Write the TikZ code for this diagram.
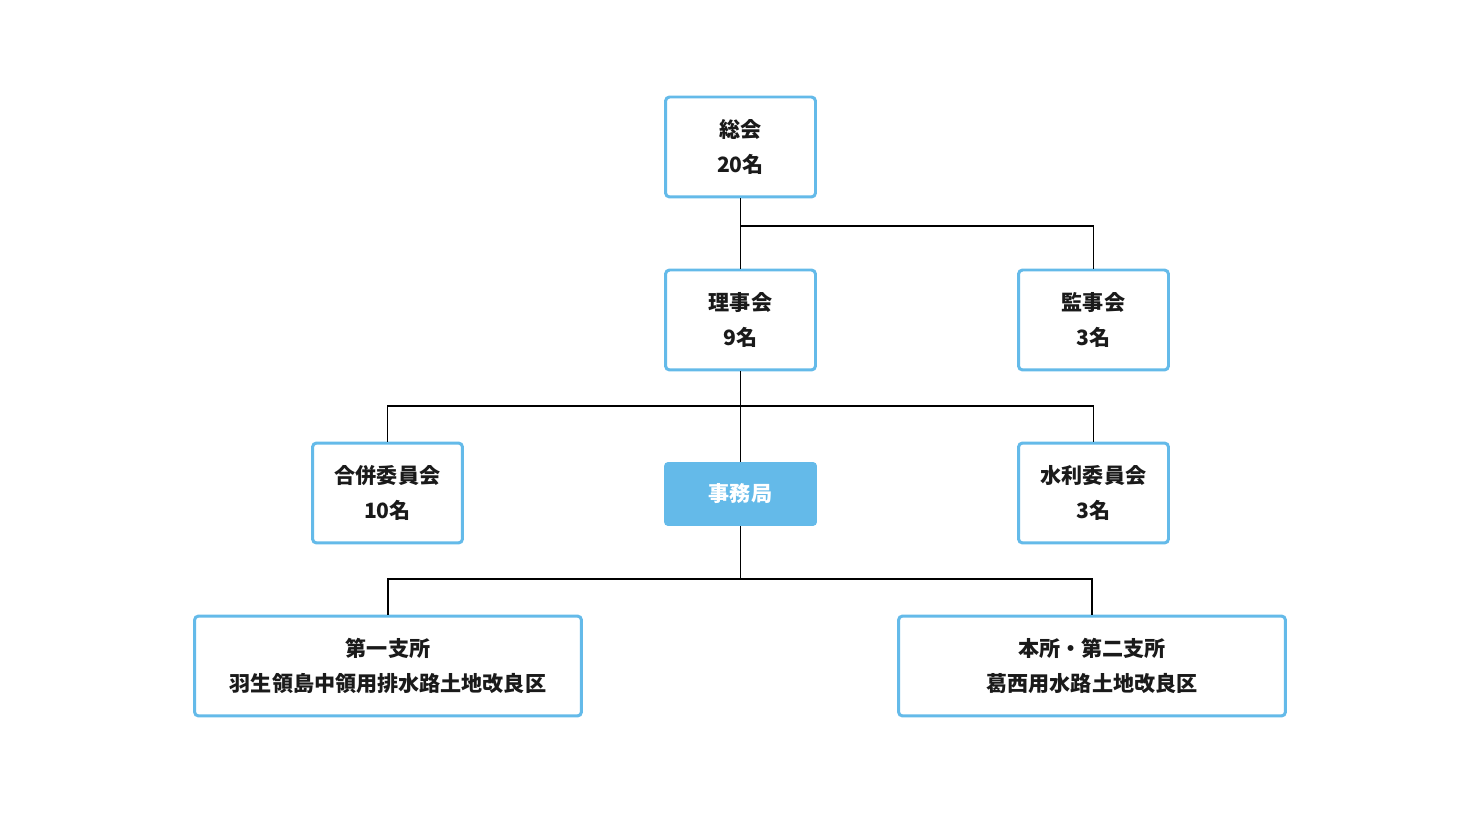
\documentclass[tikz,border=0pt]{standalone}
\usepackage{fontspec}
\setmainfont{Noto Sans CJK JP}
\usepackage{tikz}
\usetikzlibrary{positioning,calc}
\definecolor{ocbink}{HTML}{1A1A1A}
\definecolor{ocbblue}{HTML}{64BAE9}
\tikzset{
  % every member body: white card with a blue rim
  ocb box/.style={
    draw=ocbblue, line width=1.7pt, rounded corners=2.3pt, fill=white,
    minimum width=3.0cm, minimum height=2.0cm, inner sep=0pt,
    align=center, text=ocbink,
    font=\bfseries\fontsize{12}{20}\selectfont,
  },
  % the two district offices are wider
  ocb wide/.style={ocb box, minimum width=7.74cm},
  % the secretariat, filled rather than outlined
  ocb office/.style={
    fill=ocbblue, draw=none, rounded corners=2.3pt,
    minimum width=3.06cm, minimum height=1.28cm, inner sep=0pt,
    text=white, font=\bfseries\fontsize{12}{20}\selectfont,
  },
  % plain elbow lines between the bodies
  ocb link/.style={draw=black, line width=1pt},
}

\begin{document}
\begin{tikzpicture}[x=0.02cm,y=-0.02cm]
  \useasboundingbox (0,0) rectangle (1480,813);

  % ---- assembly and its two councils ----------------------------------------
  \node[ocb box] (general) at (740.5,147) {総会\\20名};
  \node[ocb box] (board)   at (740.5,320) {理事会\\9名};
  \node[ocb box] (audit)   at (1093.5,320) {監事会\\3名};

  % ---- committees and the secretariat ---------------------------------------
  \node[ocb box]    (merger) at (387.5,493)  {合併委員会\\10名};
  \node[ocb office] (office) at (740.5,494)  {事務局};
  \node[ocb box]    (water)  at (1093.5,493) {水利委員会\\3名};

  % ---- the two district offices ---------------------------------------------
  \node[ocb wide] (branch1) at (388,666)
    {第一支所\\羽生領島中領用排水路土地改良区};
  \node[ocb wide] (branch2) at (1092,666)
    {本所・第二支所\\葛西用水路土地改良区};

  % ---- connectors -----------------------------------------------------------
  \coordinate (split1) at (740.5,226);
  \coordinate (split2) at (740.5,406);
  \coordinate (split3) at (740.5,579);

  \draw[ocb link] (general.south) -- (board.north);
  \draw[ocb link] (split1) -| (audit.north);

  \draw[ocb link] (board.south) -- (office.north);
  \draw[ocb link] (merger.north) |- (split2) -| (water.north);

  \draw[ocb link] (office.south) -- (split3);
  \draw[ocb link] (branch1.north) |- (split3) -| (branch2.north);

\end{tikzpicture}
\end{document}
